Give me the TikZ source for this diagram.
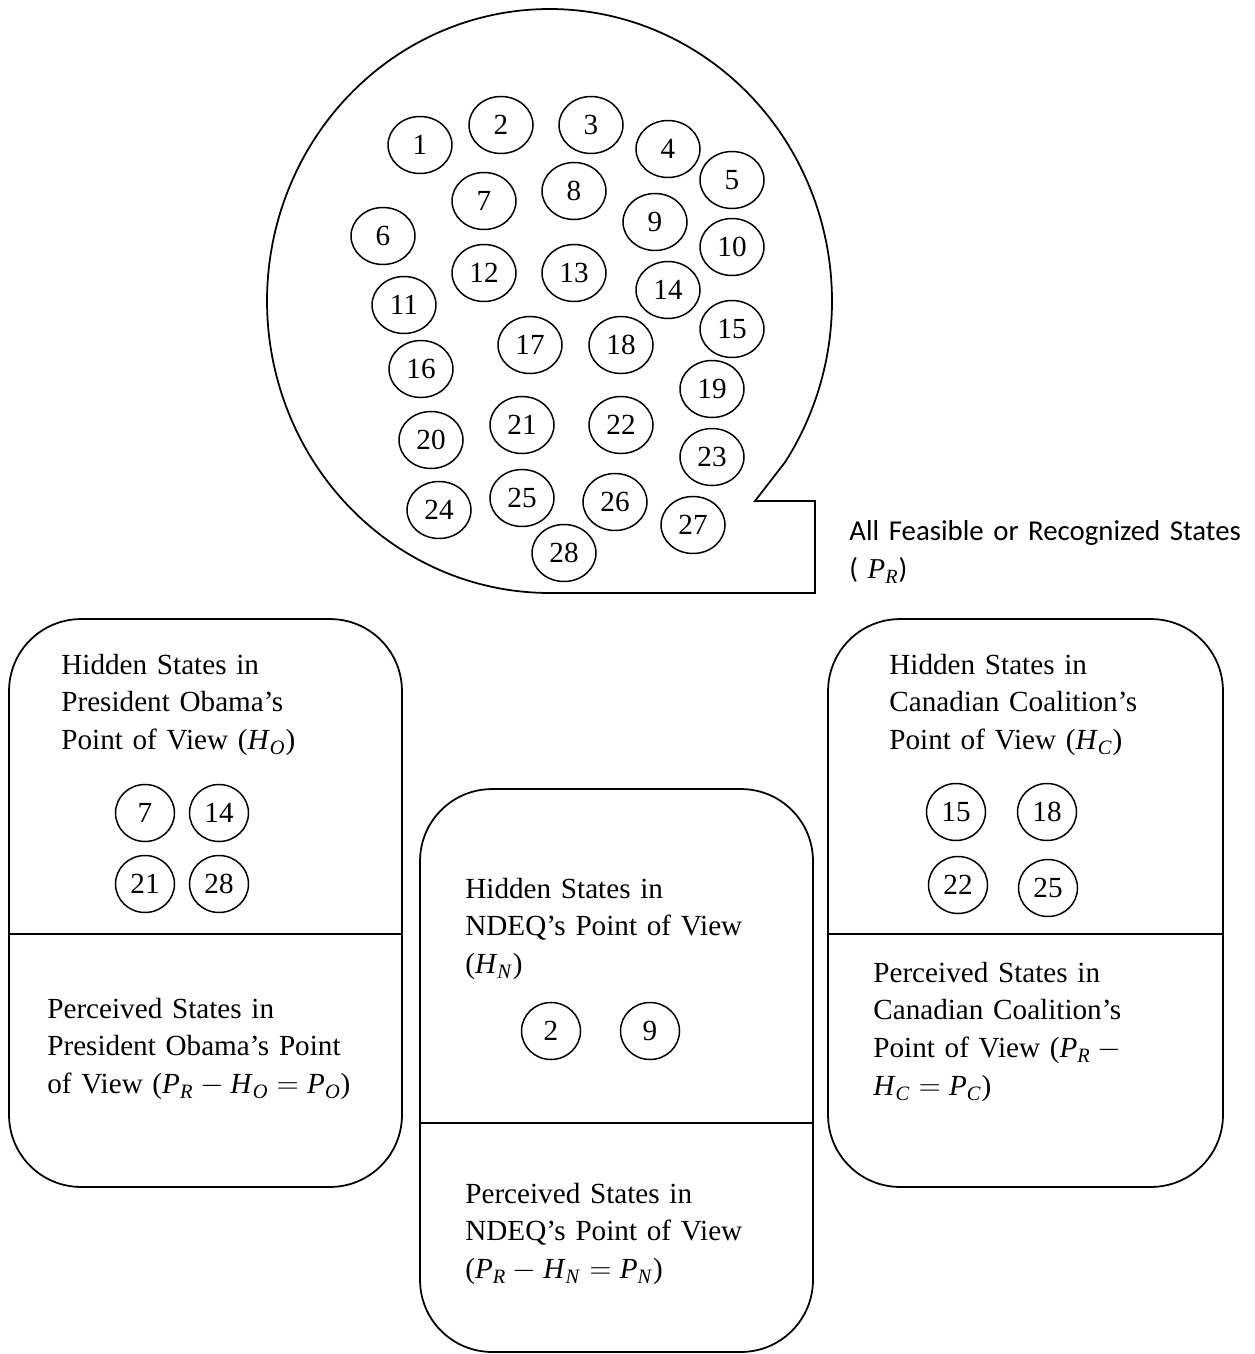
\documentclass[tikz,border=0pt]{standalone}
\usepackage{fontspec}
\setmainfont{Liberation Serif}
\newfontfamily\labelsans{Carlito}
\usetikzlibrary{shapes.geometric}
\newcommand{\bodysize}{\fontsize{16.6pt}{21.6pt}\selectfont}
\newcommand{\labelsize}{\fontsize{16.4pt}{22pt}\selectfont}
% italic set symbols with italic subscripts, and spaced operators
\newcommand{\vsym}[2]{{\rmfamily\textit{#1}\textsubscript{\textit{#2}}}}
\newcommand{\mminus}{\ensuremath{{}-{}}}
\newcommand{\meq}{\ensuremath{{}={}}}
\begin{document}
\begin{tikzpicture}[x=0.02cm, y=-0.02cm,
  outline/.style={line width=1pt, line join=miter},
  state/.style={draw, ellipse, line width=0.85pt, inner sep=0pt,
    minimum width=1.28cm, minimum height=1.14cm, font=\bodysize},
  boxstate/.style={state, minimum width=1.18cm},
  panel/.style={draw, line width=1pt, rounded corners=1.44cm, inner sep=0pt},
  divider/.style={line width=1.2pt},
  para/.style={anchor=base west, inner sep=0pt, align=left,
    text width=8cm, font=\bodysize},
  caption/.style={anchor=base west, inner sep=0pt, align=left,
    text width=8cm, font=\labelsans\labelsize},
]
\useasboundingbox (0,0) rectangle (1254,1354);

% set of all feasible states: oval with a square tab at the lower right
\draw[outline] (815,593) -- (549.5,593)
  -- plot[domain=-270:33.5, samples=240] ({549.5+282.5*cos(\x)}, {301+292*sin(\x)})
  -- (755,501) -- (815,501) -- cycle;

\foreach \n/\px/\py in {
  1/420/145, 2/501/125, 3/591/125, 4/668/149, 5/732/180,
  6/383/236, 7/484/201, 8/574/191, 9/655/222, 10/732/247,
  11/404/305, 12/484/273, 13/574/273, 14/668/290, 15/732/329,
  16/421/369, 17/530/345, 18/621/345, 19/712/389,
  20/431/440, 21/522/425, 22/621/425, 23/712/457,
  24/439/510, 25/522/498, 26/615/502, 27/693/525, 28/564/553}
  \node[state] (s\n) at (\px,\py) {\n};

\node[caption] (allstates) at (849,540)
  {All Feasible or Recognized States\\( \vsym{P}{R})};

% three points of view
\node[panel, minimum width=7.86cm, minimum height=11.36cm] (obama) at (205.5,903) {};
\node[panel, minimum width=7.86cm, minimum height=11.26cm] (ndeq) at (616.5,1070.5) {};
\node[panel, minimum width=7.90cm, minimum height=11.36cm] (canada) at (1025.5,903) {};

\draw[divider] (obama.west |- 0,934) -- (obama.east |- 0,934);
\draw[divider] (ndeq.west |- 0,1123) -- (ndeq.east |- 0,1123);
\draw[divider] (canada.west |- 0,934) -- (canada.east |- 0,934);

% President Obama
\node[para] (ohid) at (61,674)
  {Hidden States in\\President Obama's\\Point of View (\vsym{H}{O})};
\node[boxstate] (o7) at (145,813) {7};
\node[boxstate] (o14) at (219,813) {14};
\node[boxstate] (o21) at (145,884) {21};
\node[boxstate] (o28) at (219,884) {28};
\node[para] (oper) at (47,1018)
  {Perceived States in\\President Obama's Point\\of View (\vsym{P}{R}\mminus\vsym{H}{O}\meq\vsym{P}{O})};

% NDEQ
\node[para] (nhid) at (465,898)
  {Hidden States in\\NDEQ's Point of View\\(\vsym{H}{N})};
\node[boxstate] (n2) at (551,1031) {2};
\node[boxstate] (n9) at (650,1031) {9};
\node[para] (nper) at (465,1203)
  {Perceived States in\\NDEQ's Point of View\\(\vsym{P}{R}\mminus\vsym{H}{N}\meq\vsym{P}{N})};

% Canadian Coalition
\node[para] (chid) at (889,674)
  {Hidden States in\\Canadian Coalition's\\Point of View (\vsym{H}{C})};
\node[boxstate] (c15) at (956,812) {15};
\node[boxstate] (c18) at (1047,812) {18};
\node[boxstate] (c22) at (958,885) {22};
\node[boxstate] (c25) at (1048,888) {25};
\node[para] (cper) at (873,982)
  {Perceived States in\\Canadian Coalition's\\Point of View (\vsym{P}{R}\mminus\\\vsym{H}{C}\meq\vsym{P}{C})};
\end{tikzpicture}
\end{document}
